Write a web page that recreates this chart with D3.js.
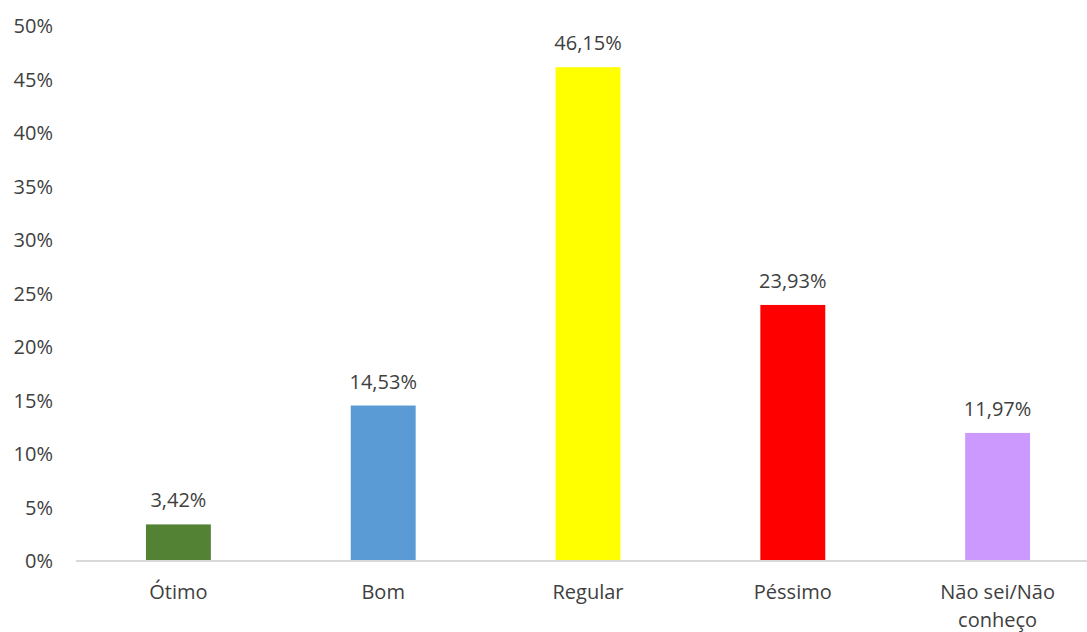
<!DOCTYPE html>
<html><head><meta charset="utf-8">
<script src="https://cdn.jsdelivr.net/npm/d3@7"></script>
<style>body{margin:0;background:#fff;} text{font-family:"Open Sans",sans-serif;}</style>
</head><body>
<svg id="c" width="1087" height="632"></svg>
<script>
const categories = ["Ótimo","Bom","Regular","Péssimo","Não sei/Não conheço"];
const values = [3.42, 14.53, 46.15, 23.93, 11.97];
const colors = ["#548235","#5b9bd5","#ffff00","#ff0000","#cc99ff"];
const yTicks = [0,5,10,15,20,25,30,35,40,45,50];

const svg = d3.select("#c");
const mLeft = 76, mRight = 1100, mTop = 26, mBottom = 561;
const x = d3.scaleBand().domain(categories).range([mLeft, mRight]).paddingInner(0.683).paddingOuter(0.3415);
const y = d3.scaleLinear().domain([0,50]).range([mBottom, mTop]);
const fmt = v => v.toFixed(2).replace(".", ",") + "%";

// y labels
svg.append("g").selectAll("text").data(yTicks).join("text")
  .attr("x", 53).attr("y", d => y(d)).attr("dy", "0.35em")
  .attr("text-anchor", "end").attr("font-size", 20).attr("fill", "#404040")
  .text(d => d + "%");

// bars
svg.append("g").selectAll("rect").data(values).join("rect")
  .attr("x", (d,i) => x(categories[i])).attr("width", x.bandwidth())
  .attr("y", d => y(d)).attr("height", d => y(0) - y(d))
  .attr("fill", (d,i) => colors[i]);

// axis line
svg.append("line").attr("x1", mLeft).attr("x2", 1087).attr("y1", y(0)).attr("y2", y(0))
  .attr("stroke", "#d9d9d9").attr("stroke-width", 2);

// data labels
svg.append("g").selectAll("text").data(values).join("text")
  .attr("x", (d,i) => x(categories[i]) + x.bandwidth()/2).attr("y", d => y(d) - 17)
  .attr("text-anchor", "middle").attr("font-size", 20).attr("fill", "#404040")
  .text(d => fmt(d));

// category labels (wrapped as separate lines)
const lines = [];
categories.forEach(c => {
  const parts = c === "Não sei/Não conheço" ? ["Não sei/Não","conheço"] : [c];
  parts.forEach((p,i) => lines.push({c, p, i}));
});
svg.append("g").selectAll("text").data(lines).join("text")
  .attr("x", d => x(d.c) + x.bandwidth()/2).attr("y", d => 599 + d.i * 27.5)
  .attr("text-anchor", "middle").attr("font-size", 20).attr("fill", "#404040")
  .text(d => d.p);
</script>
</body></html>
